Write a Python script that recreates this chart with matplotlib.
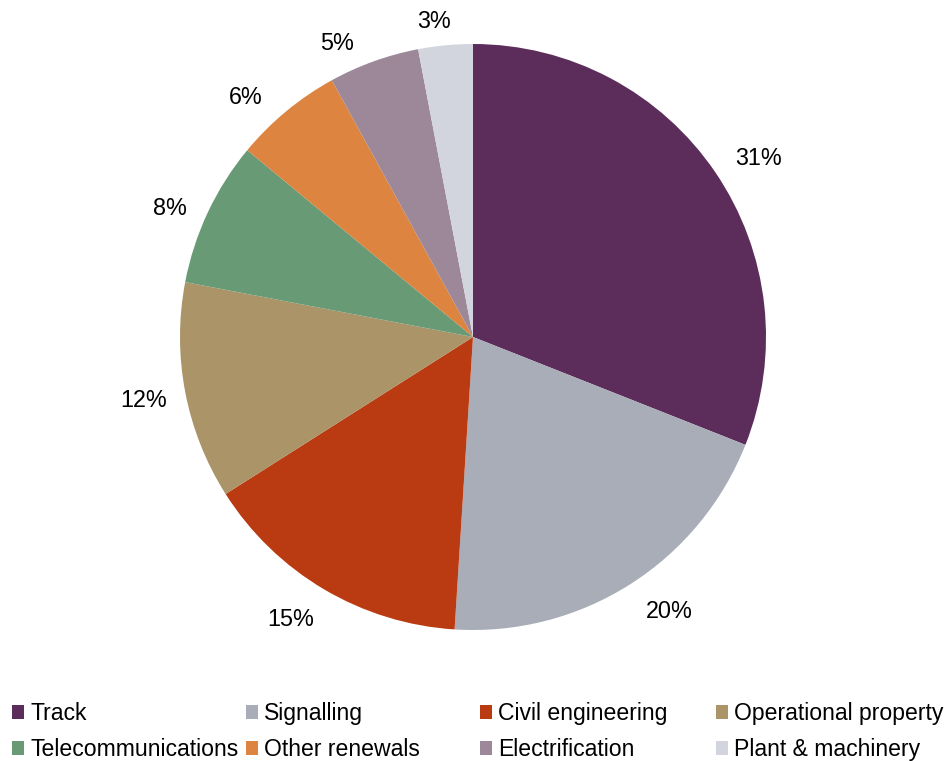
import numpy as np
import matplotlib.pyplot as plt
from matplotlib.patches import Patch

plt.rcParams['font.family'] = ['Liberation Sans', 'DejaVu Sans']

# Renewals spend by asset category (%)
categorias = ['Track', 'Signalling', 'Civil engineering', 'Operational property',
              'Telecommunications', 'Other renewals', 'Electrification', 'Plant & machinery']
valores = [31, 20, 15, 12, 8, 6, 5, 3]
colores = ['#5C2D5A', '#A8ADB7', '#BA3B12', '#AA9468',
           '#679A75', '#DD8440', '#9D8899', '#D2D5DE']

# desplazamiento de cada etiqueta (px) respecto al borde de su cuña
desfase_etiquetas = [(43, 14), (39, -27), (-33, -30), (-42, -9),
                     (-38, 4), (-40, 14), (-37, 18), (-11, 24)]

fig = plt.figure(figsize=(9.51, 7.61), dpi=100)

# pie centred at (473, 337) px with radius 293 px
cx, cy, r = 473, 337, 293
W, H = 951, 761
ax = fig.add_axes([(cx - r) / W, (H - cy - r) / H, 2 * r / W, 2 * r / H])

cunas, _ = ax.pie(valores, colors=colores, startangle=90, counterclock=False,
                  radius=1, wedgeprops=dict(linewidth=0))
ax.set_xlim(-1, 1)
ax.set_ylim(-1, 1)
ax.set_aspect('equal')
ax.axis('off')

# etiquetas de porcentaje fuera de cada cuña
for w, v, d in zip(cunas, valores, desfase_etiquetas):
    ang = np.deg2rad((w.theta1 + w.theta2) / 2)
    ax.annotate(f'{v}%', xy=(np.cos(ang), np.sin(ang)), xytext=d,
                textcoords='offset pixels', ha='center', va='center',
                fontsize=16.8, color='#000000')

# leyenda en 4 columnas de ancho igual
xcols = [12, 246, 480, 716]
for i, x0 in enumerate(xcols):
    idx = [i, i + 4]
    handles = [Patch(facecolor=colores[k], edgecolor='none') for k in idx]
    etiquetas = [categorias[k] for k in idx]
    fig.legend(handles, etiquetas, loc='center left',
               bbox_to_anchor=(x0 / W, 1 - 731.5 / H), frameon=False,
               fontsize=16.6, handlelength=0.54, handleheight=0.54,
               handletextpad=0.25, labelspacing=0.55, borderpad=0,
               borderaxespad=0)

fig.savefig('out.png', dpi=100)
